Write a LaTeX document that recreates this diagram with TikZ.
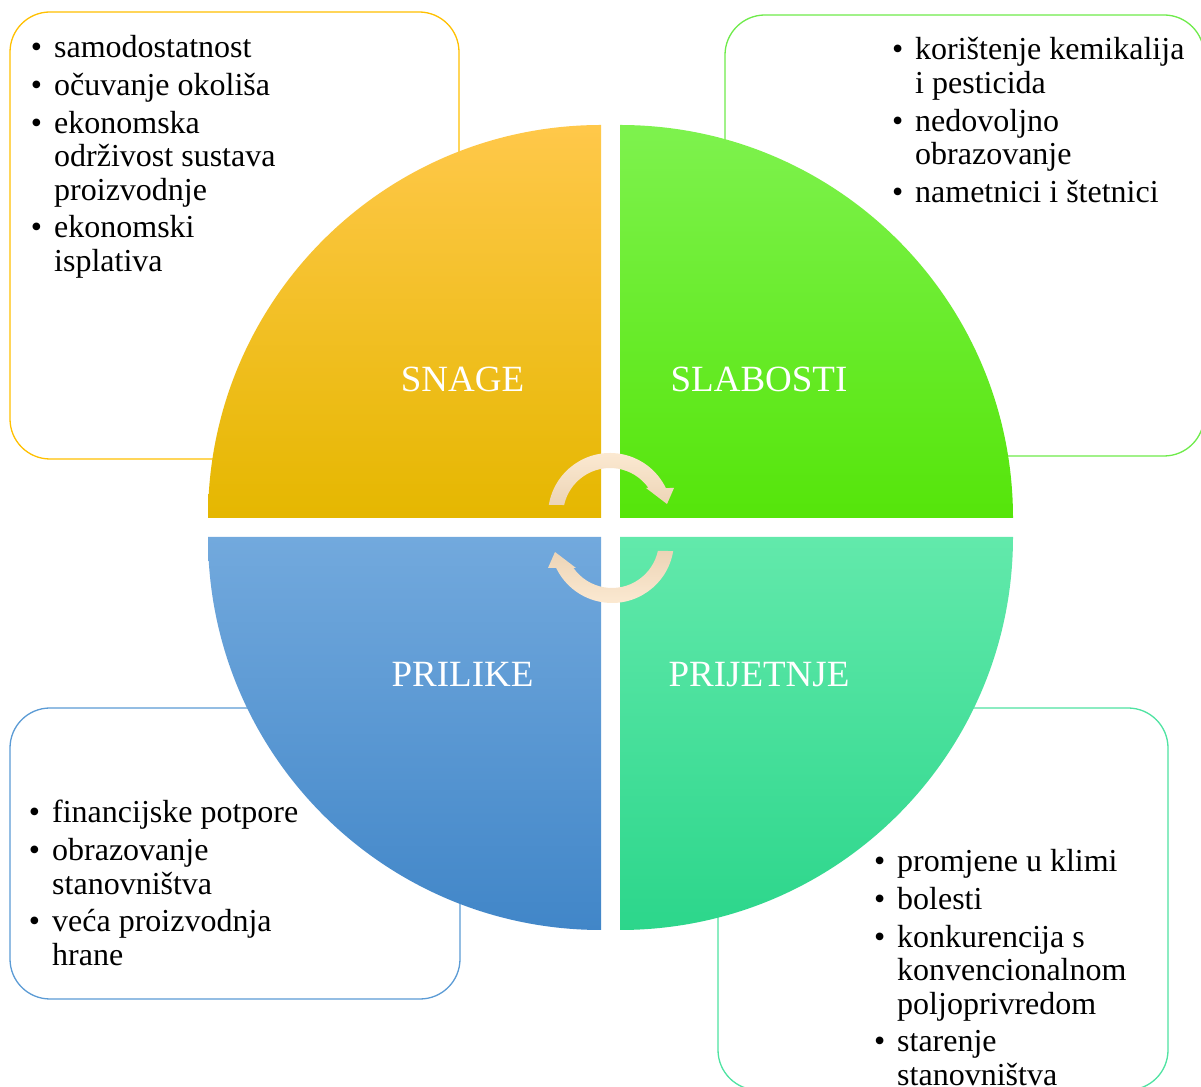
\documentclass[tikz,border=0pt]{standalone}
\usepackage{fontspec}
\setmainfont{Liberation Serif}
\definecolor{tlTop}{HTML}{FFC84A}
\definecolor{tlMid}{HTML}{FEC600}
\definecolor{tlBot}{HTML}{E5B700}
\definecolor{trTop}{HTML}{7EF24E}
\definecolor{trMid}{HTML}{62F31A}
\definecolor{trBot}{HTML}{55E50A}
\definecolor{blTop}{HTML}{72A9DD}
\definecolor{blMid}{HTML}{5B9CD9}
\definecolor{blBot}{HTML}{4186C8}
\definecolor{brTop}{HTML}{62E9AB}
\definecolor{brMid}{HTML}{40EA9F}
\definecolor{brBot}{HTML}{2CD68B}
\definecolor{tlLine}{HTML}{FFC000}
\definecolor{trLine}{HTML}{6EEB4A}
\definecolor{blLine}{HTML}{5B9BD5}
\definecolor{brLine}{HTML}{4FE3A2}
\definecolor{arLight}{HTML}{FDEBD4}
\definecolor{arDark}{HTML}{ECD4B6}
\newcommand{\bitem}[1]{\hbox{\llap{\textbullet\hspace{12pt}}#1}}
\newcommand{\bcont}[1]{\hbox{#1}}
\newcommand{\bgap}{\vskip4.5pt}
\newcommand{\blist}[1]{\vtop{\baselineskip=33.3pt\lineskiplimit=-60pt\lineskip=0pt\parskip=0pt #1}}
\begin{document}
\begin{tikzpicture}[x=1pt,y=1pt,
  infobox/.style={rounded corners=40pt,line width=1.3pt,fill=white},
  listtext/.style={anchor=base west,inner sep=0pt,font=\fontsize{32}{33.3}\selectfont,text=black},
  quadlabel/.style={anchor=base,inner sep=0pt,font=\fontsize{37}{40}\selectfont,text=white}]
\useasboundingbox (0,0) rectangle (1201,1086);
% boxes
\draw[infobox,draw=tlLine] (10,627) rectangle (459,1074);
\draw[infobox,draw=trLine] (725,630) rectangle (1204,1071);
\draw[infobox,draw=blLine] (10,87) rectangle (460,378);
\draw[infobox,draw=brLine] (718,-4) rectangle (1168,378);
% quadrants
\shade[top color=tlTop,middle color=tlMid,bottom color=tlBot]
  (601,568) -- (208,568) arc[start angle=180,end angle=90,radius=393pt] -- cycle;
\shade[top color=trTop,middle color=trMid,bottom color=trBot]
  (620,568) -- (620,961) arc[start angle=90,end angle=0,radius=393pt] -- cycle;
\shade[top color=blTop,middle color=blMid,bottom color=blBot]
  (601,549) -- (601,156) arc[start angle=270,end angle=180,radius=393pt] -- cycle;
\shade[top color=brTop,middle color=brMid,bottom color=brBot]
  (620,549) -- (1013,549) arc[start angle=0,end angle=-90,radius=393pt] -- cycle;
% circular arrows
\begin{scope}[shift={(610,571)}]
\shade[top color=arLight,bottom color=arDark]
  (170.7:62) arc[start angle=170.7,end angle=25.8,radius=62pt]
  -- (64,27) -- (57,11) -- (36,27) -- (38.5,27)
  arc[start angle=35.1,end angle=167.7,radius=47pt] -- cycle;
\end{scope}
\begin{scope}[shift={(612,545)},rotate=180]
\shade[top color=arDark,bottom color=arLight]
  (170.7:62) arc[start angle=170.7,end angle=25.8,radius=62pt]
  -- (64,27) -- (57,11) -- (36,27) -- (38.5,27)
  arc[start angle=35.1,end angle=167.7,radius=47pt] -- cycle;
\end{scope}
% labels
\node[quadlabel] (snage) at (462.5,694) {SNAGE};
\node[quadlabel] (slabosti) at (759,694) {SLABOSTI};
\node[quadlabel] (prilike) at (462.5,399) {PRILIKE};
\node[quadlabel] (prijetnje) at (759,399) {PRIJETNJE};
% lists
\node[listtext] (tltext) at (54,1028) {\blist{%
  \bitem{samodostatnost}\bgap
  \bitem{očuvanje okoliša}\bgap
  \bitem{ekonomska}\bcont{održivost sustava}\bcont{proizvodnje}\bgap
  \bitem{ekonomski}\bcont{isplativa}}};
\node[listtext] (trtext) at (915,1026) {\blist{%
  \bitem{korištenje kemikalija}\bcont{i pesticida}\bgap
  \bitem{nedovoljno}\bcont{obrazovanje}\bgap
  \bitem{nametnici i štetnici}}};
\node[listtext] (bltext) at (52,263) {\blist{%
  \bitem{financijske potpore}\bgap
  \bitem{obrazovanje}\bcont{stanovništva}\bgap
  \bitem{veća proizvodnja}\bcont{hrane}}};
\node[listtext] (brtext) at (897,214) {\blist{%
  \bitem{promjene u klimi}\bgap
  \bitem{bolesti}\bgap
  \bitem{konkurencija s}\bcont{konvencionalnom}\bcont{poljoprivredom}\bgap
  \bitem{starenje}\bcont{stanovništva}}};
\end{tikzpicture}
\end{document}
